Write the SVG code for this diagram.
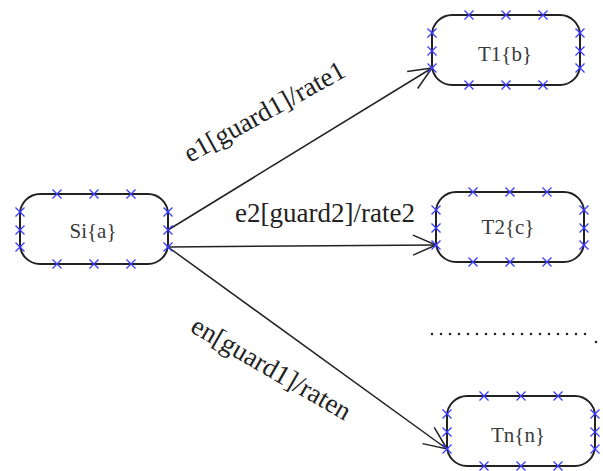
<svg xmlns="http://www.w3.org/2000/svg" xmlns:xlink="http://www.w3.org/1999/xlink" width="603" height="471" viewBox="0 0 603 471">
  <style>
    .box { fill: #ffffff; stroke: #222222; stroke-width: 2; }
    .cross { fill: none; stroke: #3a3aff; stroke-width: 1.3; }
    .name { font-family: "Liberation Serif", "Times New Roman", "DejaVu Serif", serif; font-size: 21px; fill: #3a3a3a; text-anchor: middle; }
    .edge { fill: none; stroke: #222222; stroke-width: 1.5; }
    .label { font-family: "Liberation Serif", "Times New Roman", "DejaVu Serif", serif; font-size: 27px; fill: #222222; }
    .dots { fill: none; stroke: #222222; stroke-width: 2.6; stroke-linecap: round; stroke-dasharray: 0 9; }
  </style>
  <defs>
    <!-- small blue port mark -->
    <path id="x" class="cross" d="M-4.5,-4.5 L4.5,4.5 M-4.5,4.5 L4.5,-4.5"/>
    <!-- open V arrowhead -->
    <marker id="arrow" markerUnits="userSpaceOnUse" markerWidth="30" markerHeight="30" viewBox="-26 -15 30 30" refX="0" refY="0" orient="auto">
      <path d="M-23,-10 L0,0 L-23,10" fill="none" stroke="#222222" stroke-width="1.5"/>
    </marker>
    <!-- state box with port marks on every side -->
    <g id="state">
      <rect class="box" x="0" y="0" width="148" height="70" rx="20" ry="20"/>
      <use xlink:href="#x" x="37" y="0"/>
      <use xlink:href="#x" x="74" y="0"/>
      <use xlink:href="#x" x="111" y="0"/>
      <use xlink:href="#x" x="37" y="70"/>
      <use xlink:href="#x" x="74" y="70"/>
      <use xlink:href="#x" x="111" y="70"/>
      <use xlink:href="#x" x="0" y="18"/>
      <use xlink:href="#x" x="0" y="36"/>
      <use xlink:href="#x" x="0" y="53"/>
      <use xlink:href="#x" x="148" y="18"/>
      <use xlink:href="#x" x="148" y="36"/>
      <use xlink:href="#x" x="148" y="53"/>
    </g>
  </defs>

  <rect x="0" y="0" width="603" height="471" fill="#ffffff"/>

  <!-- transitions -->
  <g id="connectors">
    <line class="edge" x1="168" y1="230" x2="432" y2="68" marker-end="url(#arrow)"/>
    <line class="edge" x1="168" y1="247" x2="436" y2="245" marker-end="url(#arrow)"/>
    <line class="edge" x1="168" y1="247" x2="447" y2="449" marker-end="url(#arrow)"/>
    <text class="label" transform="translate(190,163) rotate(-29)">e1[guard1]/rate1</text>
    <text class="label" x="235" y="222">e2[guard2]/rate2</text>
    <text class="label" transform="translate(189,331) rotate(30)">en[guard1]/raten</text>
  </g>

  <!-- states -->
  <g id="Si">
    <use xlink:href="#state" x="20" y="194"/>
    <text class="name" x="93" y="238">Si{a}</text>
  </g>
  <g id="T1">
    <use xlink:href="#state" x="432" y="15"/>
    <text class="name" x="505" y="61">T1{b}</text>
  </g>
  <g id="T2">
    <use xlink:href="#state" x="436" y="192"/>
    <text class="name" x="508" y="234">T2{c}</text>
  </g>
  <g id="Tn">
    <use xlink:href="#state" x="447" y="396"/>
    <text class="name" x="518" y="442">Tn{n}</text>
  </g>

  <!-- ellipsis for further target states -->
  <g id="more">
    <line class="dots" x1="432" y1="334" x2="590" y2="334"/>
    <line class="dots" x1="596" y1="342" x2="606" y2="342"/>
  </g>
</svg>
